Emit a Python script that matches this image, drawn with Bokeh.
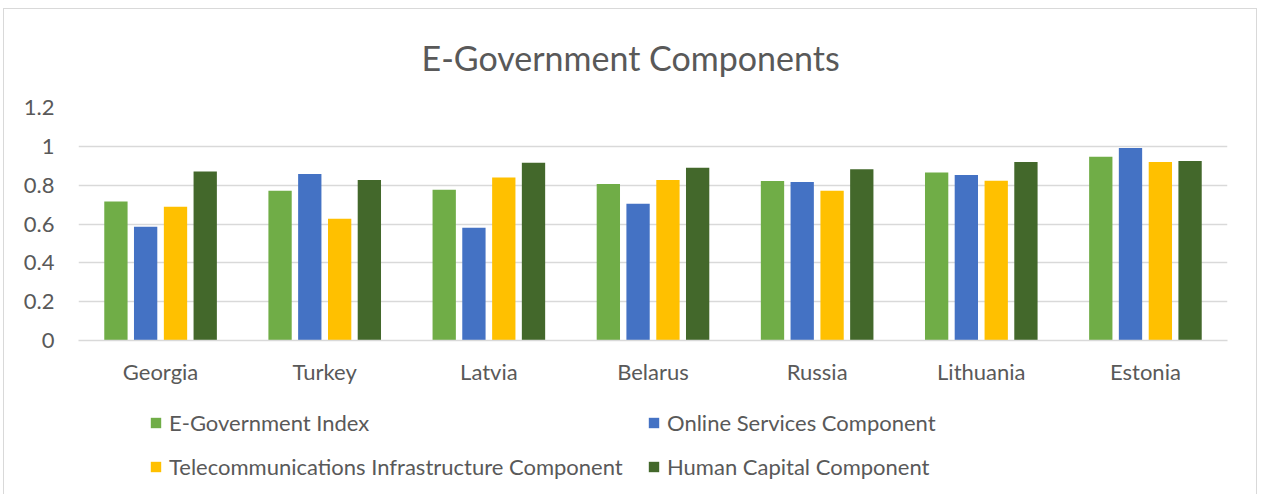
from bokeh.plotting import figure
from bokeh.layouts import column
from bokeh.models import FactorRange, FixedTicker, Legend, LegendItem, ColumnDataSource, Range1d
from bokeh.transform import dodge
from bokeh.embed import file_html
from bokeh.resources import INLINE

countries = ["Georgia", "Turkey", "Latvia", "Belarus", "Russia", "Lithuania", "Estonia"]
egov_index = [0.716, 0.771, 0.777, 0.806, 0.822, 0.865, 0.946]
online_services = [0.586, 0.857, 0.581, 0.704, 0.816, 0.852, 0.992]
telecom_infra = [0.689, 0.627, 0.839, 0.827, 0.771, 0.823, 0.919]
human_capital = [0.870, 0.827, 0.916, 0.890, 0.882, 0.919, 0.925]

series_names = ["E-Government Index", "Online Services Component",
                "Telecommunications Infrastructure Component", "Human Capital Component"]
series_keys = ["egov", "online", "telecom", "human"]
series_colors = ["#70AD47", "#4472C4", "#FFC000", "#43682B"]
offsets = [-0.272, -0.091, 0.091, 0.272]

yticks = [0, 0.2, 0.4, 0.6, 0.8, 1, 1.2]
ytick_labels = ["0", "0.2", "0.4", "0.6", "0.8", "1", "1.2"]

source = ColumnDataSource(dict(country=countries, egov=egov_index, online=online_services,
                               telecom=telecom_infra, human=human_capital))

FONT = "Lato"
TXT = "#595959"

p = figure(x_range=FactorRange(*countries, range_padding=0), y_range=(0, 1.2),
           width=1252, height=391, output_backend="svg", toolbar_location=None,
           min_border_left=74, min_border_right=29, min_border_top=98, min_border_bottom=60,
           title="E-Government Components")
p.outline_line_color = None

p.title.text_font = FONT
p.title.text_font_size = "34px"
p.title.text_font_style = "normal"
p.title.text_color = TXT
p.title.align = "left"
p.title.vertical_align = "top"
p.title.offset = 343
p.title.standoff = 55

for key, col, off in zip(series_keys, series_colors, offsets):
    p.vbar(x=dodge("country", off, range=p.x_range), top=key, width=0.142,
           source=source, fill_color=col, line_color=None)

p.xgrid.grid_line_color = None
p.ygrid.grid_line_color = "#d9d9d9"
p.ygrid.grid_line_width = 1.3

p.yaxis.ticker = FixedTicker(ticks=yticks)
p.yaxis.major_label_overrides = {t: l for t, l in zip(yticks, ytick_labels)}
p.yaxis.axis_line_color = None
p.yaxis.major_tick_line_color = None
p.yaxis.minor_tick_line_color = None
p.yaxis.major_label_standoff = 18
p.yaxis.major_label_text_font = FONT
p.yaxis.major_label_text_font_size = "22px"
p.yaxis.major_label_text_color = TXT

p.xaxis.axis_line_color = "#d9d9d9"
p.xaxis.axis_line_width = 1.3
p.xaxis.major_tick_line_color = None
p.xaxis.minor_tick_line_color = None
p.xaxis.major_label_standoff = 11
p.xaxis.major_label_text_font = FONT
p.xaxis.major_label_text_font_size = "22px"
p.xaxis.major_label_text_color = TXT

# legend panel (second figure, same width, under the chart)
lg = figure(width=1252, height=99, output_backend="svg", toolbar_location=None,
            x_range=Range1d(0, 1), y_range=Range1d(0, 1),
            min_border_left=0, min_border_right=0, min_border_top=0, min_border_bottom=0)
lg.axis.visible = False
lg.grid.grid_line_color = None
lg.outline_line_color = None
swatches = []
for col in series_colors:
    # off-range placeholder so only the legend swatch is visible
    swatches.append(lg.vbar(x=[-10], top=[-10], width=0.1, fill_color=col, line_color=None))

# legend fills columns first, so order items column by column
order = [0, 2, 1, 3]
items = [LegendItem(label=series_names[i], renderers=[swatches[i]]) for i in order]
legend = Legend(items=items, ncols=2, location=(71, 19),
                padding=0, margin=0, spacing=17, label_height=24, label_width=461,
                glyph_width=13, glyph_height=13, label_standoff=7,
                border_line_color=None, background_fill_alpha=0,
                label_text_font=FONT, label_text_font_size="22px", label_text_color=TXT)
lg.add_layout(legend, "center")

layout = column(p, lg, spacing=0,
                styles={"margin-left": "3px", "margin-top": "8px", "border": "1px solid #d9d9d9"})

open("out.html", "w").write(file_html(layout, INLINE))
